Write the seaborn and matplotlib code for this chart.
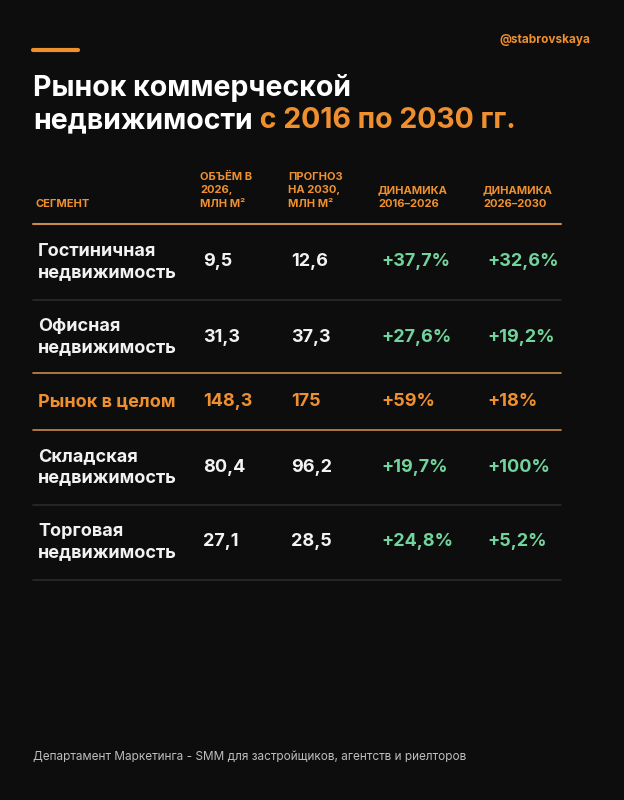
import matplotlib
matplotlib.use("Agg")
import matplotlib.pyplot as plt
import seaborn as sns

segments = ["Гостиничная\nнедвижимость", "Офисная\nнедвижимость", "Рынок в целом",
            "Складская\nнедвижимость", "Торговая\nнедвижимость"]
vol_2026 = ["9,5", "31,3", "148,3", "80,4", "27,1"]
fc_2030 = ["12,6", "37,3", "175", "96,2", "28,5"]
dyn_16_26 = ["+37,7%", "+27,6%", "+59%", "+19,7%", "+24,8%"]
dyn_26_30 = ["+32,6%", "+19,2%", "+18%", "+100%", "+5,2%"]
headers = ["СЕГМЕНТ", "ОБЪЁМ В\n2026,\nМЛН М²", "ПРОГНОЗ\nНА 2030,\nМЛН М²",
           "ДИНАМИКА\n2016–2026", "ДИНАМИКА\n2026–2030"]

sns.set_theme(style="dark")
plt.rcParams['font.family'] = ['Inter', 'DejaVu Sans']
BG = "#0d0d0d"; OR = "#ef9030"; GR = "#72d49c"; WH = "#f2f2f2"

fig = plt.figure(figsize=(6.24, 8), dpi=100, facecolor=BG)
ax = fig.add_axes([0, 0, 1, 1], facecolor=BG)
ax.set_xlim(0, 624); ax.set_ylim(800, 0); ax.axis("off")

ax.plot([33, 78], [50, 50], color=OR, lw=3)
ax.text(590, 40, "@stabrovskaya", color=OR, fontsize=8.5, fontweight="bold", ha="right", va="center")
ax.text(33, 88, "Рынок коммерческой", color="white", fontsize=20.5, fontweight="bold", va="center")
t = ax.text(33, 121, "недвижимости", color="white", fontsize=20.5, fontweight="bold", va="center")
ax.annotate(" с 2016 по 2030 гг.", xy=(1, 0.5), xycoords=t, color=OR, fontsize=20.5,
            fontweight="bold", va="center", ha="left")

colx = [35, 200, 288, 378, 483]
for x, h in zip(colx, headers):
    ax.text(x, 209, h, color=OR, fontsize=8, fontweight="bold", va="bottom", linespacing=1.45)
ax.plot([33, 561], [224, 224], color="#c98a4a", lw=1.5)

rowy = [262, 337, 402, 467, 542]
sep = [300, 373, 430, 505, 580]
sepc = ["#2a2a2a", "#c98a4a", "#c98a4a", "#2a2a2a", "#2a2a2a"]
for i, y in enumerate(rowy):
    hl = segments[i] == "Рынок в целом"
    c = OR if hl else WH
    fs = 13
    ax.text(38, y, segments[i], color=c, fontsize=fs, fontweight="bold", va="center", linespacing=1.3)
    ax.text(203, y, vol_2026[i], color=c, fontsize=fs, fontweight="bold", va="center")
    ax.text(291, y, fc_2030[i], color=c, fontsize=fs, fontweight="bold", va="center")
    ax.text(381, y, dyn_16_26[i], color=c if hl else GR, fontsize=fs, fontweight="bold", va="center")
    ax.text(487, y, dyn_26_30[i], color=c if hl else GR, fontsize=fs, fontweight="bold", va="center")
    ax.plot([33, 561], [sep[i], sep[i]], color=sepc[i], lw=1.2)

ax.text(33, 757, "Департамент Маркетинга - SMM для застройщиков, агентств и риелторов",
        color="#bdbdbd", fontsize=8.5, va="center")
fig.savefig("out.png", dpi=100, facecolor=BG)
